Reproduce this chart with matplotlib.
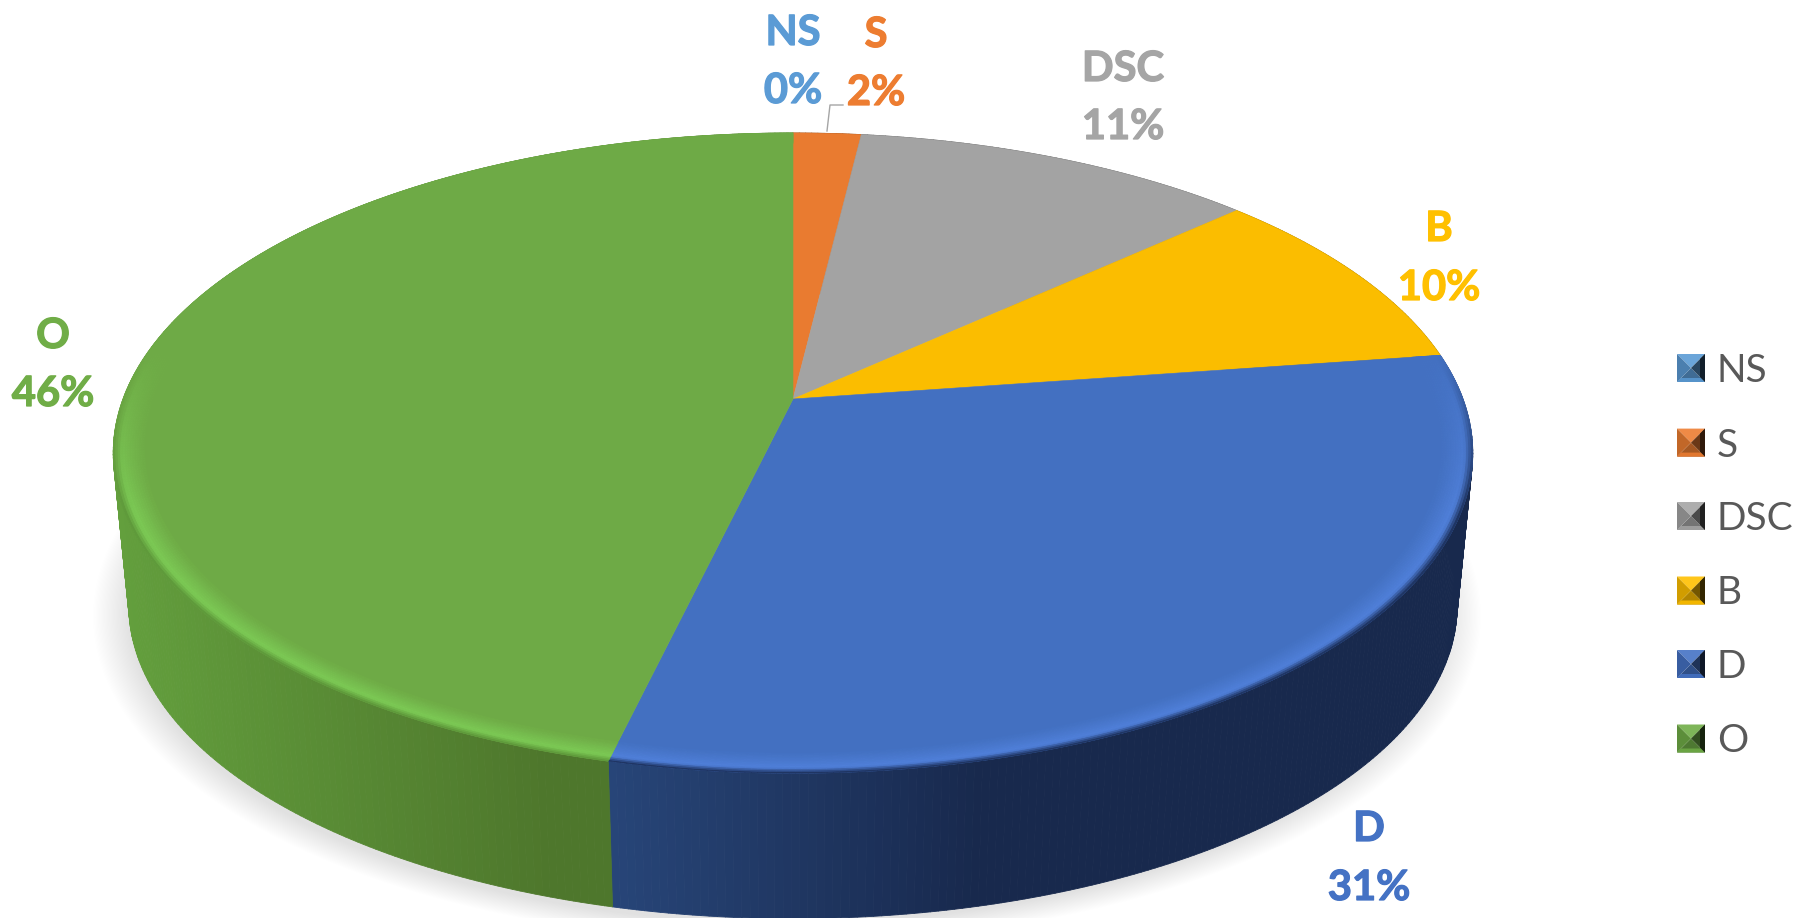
import numpy as np
import matplotlib
matplotlib.use("Agg")
import matplotlib.pyplot as plt
import matplotlib.patheffects as pe
from matplotlib.collections import PolyCollection
from matplotlib.colors import to_rgb

categories = ["NS", "S", "DSC", "B", "D", "O"]
values = [0, 1.9, 11.3, 9.5, 31.0, 46.3]
colors = ["#5b9bd5", "#ed7d31", "#a5a5a5", "#ffc000", "#4472c4", "#70ad47"]

# pixel geometry of the tilted disc
cx, cy = 793, 399
A, B, k = 670, 311, 0.169
wall = 154
fnt = ["Lato", "DejaVu Sans"]

label_pos = [(793, 33, 91), (876, 35, 93), (1123, 69, 127),
             (1439, 229, 288), (1369, 829, 888), (53, 336, 394)]
legend_y = [368, 442.6, 516, 590.5, 664, 738.5]


def top_xy(r, th):
    w = 1 + k * r * np.cos(th)
    return cx + A * r * np.sin(th) / w, cy - B * r * np.cos(th) / w


def bot_xy(th):
    w = 1 + k * np.cos(th)
    return cx + 0.977 * A * np.sin(th) / w, cy + wall - 0.977 * B * np.cos(th) / w


def mix(c1, c2, t):
    c1, c2 = np.array(to_rgb(c1)), np.array(to_rgb(c2))
    return tuple(c1 + (c2 - c1) * t)


fig = plt.figure(figsize=(17.98, 9.18), dpi=100)
ax = fig.add_axes([0, 0, 1, 1])
ax.set_xlim(0, 1798)
ax.set_ylim(918, 0)
ax.axis("off")

# soft shadow under the disc
all_th = np.linspace(0, 2 * np.pi, 361)
sx, sy = bot_xy(all_th)
for s in np.linspace(1.045, 0.99, 30):
    ax.fill(cx - 6 + (sx - cx) * s, cy + wall + 8 + (sy - cy - wall) * s,
            color="k", alpha=0.0055, lw=0, zorder=1)

edges = np.cumsum([0] + values) / sum(values) * 2 * np.pi

# side wall
for i in range(len(values)):
    if values[i] == 0:
        continue
    th = np.linspace(edges[i], edges[i + 1], max(int(values[i] * 6), 4) + 1)
    x0, y0 = top_xy(1, th)
    x1, y1 = bot_xy(th)
    quads, cols = [], []
    for j in range(len(th) - 1):
        quads.append([(x0[j], y0[j]), (x0[j + 1], y0[j + 1]), (x1[j + 1], y1[j + 1]), (x1[j], y1[j])])
        t = (x0[j] - 112) / 1360
        if categories[i] == "O":
            cols.append(mix("#639f3d", "#4e772c", min(t / 0.32, 1)))
        elif categories[i] == "D":
            cols.append(mix("#2a4a80", "#18294d", np.clip((t - 0.32) / 0.32, 0, 1)))
        else:
            cols.append(mix(colors[i], "#000000", 0.4))
    ax.add_collection(PolyCollection(quads, facecolors=cols, edgecolors=cols, lw=0.6, zorder=2))

# top face
for i in range(len(values)):
    if values[i] == 0:
        continue
    th = np.linspace(edges[i], edges[i + 1], max(int(values[i] * 6), 4) + 1)
    x, y = top_xy(1, th)
    ax.fill(np.r_[cx, x], np.r_[cy, y], color=mix(colors[i], "#000000", 0.015), lw=0.4, zorder=3)

# bevel along the front rim
radii = np.linspace(1, 0.955, 14)
for i in range(len(values)):
    if categories[i] == "O":
        light, dark = "#7cca55", "#5f9a3b"
    elif categories[i] == "D":
        light, dark = "#5080da", "#1f3563"
    else:
        continue
    base = mix(colors[i], "#000000", 0.015)
    th = np.linspace(edges[i], edges[i + 1], int(values[i] * 8) + 1)
    quads, cols = [], []
    for a in range(len(radii) - 1):
        p = (1 - radii[a]) / 0.045
        for j in range(len(th) - 1):
            v = np.cos(th[j])
            fade = np.clip((0.15 - v) / 0.5, 0, 1)
            xa, ya = top_xy(radii[a], th[j:j + 2])
            xb, yb = top_xy(radii[a + 1], th[j:j + 2])
            quads.append([(xa[0], ya[0]), (xa[1], ya[1]), (xb[1], yb[1]), (xb[0], yb[0])])
            if p < 0.25:
                c = mix(dark, light, p / 0.25)
            else:
                c = mix(light, base, (p - 0.25) / 0.75)
            cols.append(mix(base, c, fade))
    ax.add_collection(PolyCollection(quads, facecolors=cols, edgecolors=cols, lw=0.5, zorder=4))

# data labels
for i in range(len(categories)):
    lx, y1, y2 = label_pos[i]
    for s, yy in [(categories[i], y1), (f"{values[i]:.0f}%", y2)]:
        t = ax.text(lx, yy, s, color=colors[i], family=fnt, fontsize=30, fontweight="bold",
                    ha="center", va="center", zorder=6)
        t.set_path_effects([pe.withStroke(linewidth=0.9, foreground=colors[i])])

ax.plot([827, 830, 843], [131, 105, 105], color="#a5a5a5", lw=1, zorder=5)

# legend with pyramid style keys
for i in range(len(categories)):
    y = legend_y[i]
    x0, x1 = 1677, 1705
    y0, y1 = y - 14, y + 14
    xm, ym = (x0 + x1) / 2, y
    ax.fill([x0, x1, xm], [y0, y0, ym], color=mix(colors[i], "#ffffff", 0.1), lw=0, zorder=5)
    ax.fill([x0, x1, xm], [y1, y1, ym], color=mix(colors[i], "#000000", 0.3), lw=0, zorder=5)
    ax.fill([x0, x0, xm], [y0, y1, ym], color=mix(colors[i], "#000000", 0.18), lw=0, zorder=5)
    ax.fill([x1, x1, xm], [y0, y1, ym], color=mix(colors[i], "#000000", 0.55), lw=0, zorder=5)
    ax.fill([x0, x1, x1 - 4, x0 + 4], [y1, y1, y1 - 4, y1 - 4], color=mix(colors[i], "#000000", 0.05),
            lw=0, zorder=5)
    ax.fill([x1, x1, x1 - 5, x1 - 5], [y0, y1, y1 - 5, y0 + 5], color=mix(colors[i], "#000000", 0.8),
            lw=0, zorder=5)
    ax.text(1717, y + 3, categories[i], color="#595959", family=fnt, fontsize=28,
            ha="left", va="center", zorder=6)

fig.savefig("out.png", dpi=100)
